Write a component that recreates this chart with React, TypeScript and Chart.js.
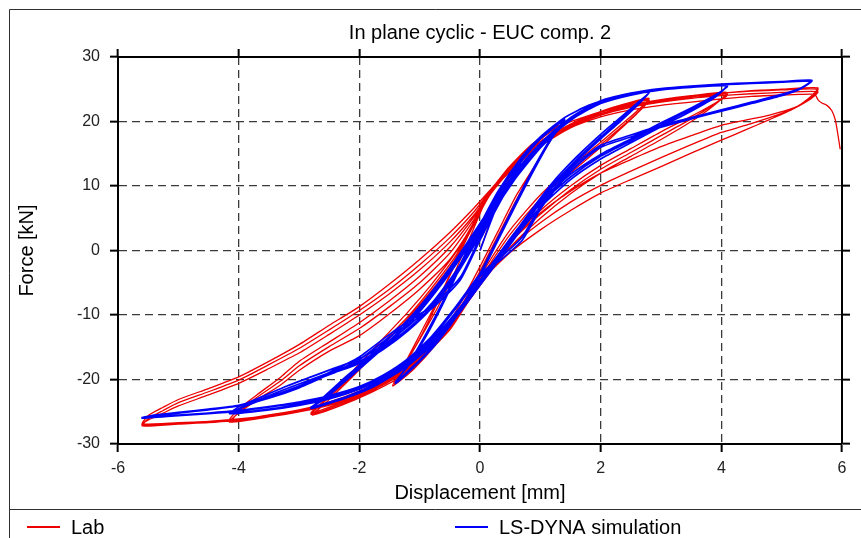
import React, { useEffect, useRef } from "react";
import { Chart, registerables } from "chart.js";

Chart.register(...registerables);

type P = [number, number];

// ---- text ----
const chartTitle = "In plane cyclic - EUC comp. 2";
const xAxisTitle = "Displacement [mm]";
const yAxisTitle = "Force [kN]";
const seriesNames = ["Lab", "LS-DYNA simulation"];

// ---- axis ranges ----
const X_MIN = -6;
const X_MAX = 6;
const X_STEP = 2;
const Y_MIN = -30;
const Y_MAX = 30;
const Y_STEP = 10;

// ---- Lab (red) : displacement [mm], force [kN] ----
const labCycle1: P[] = [
  [0, 0], [0.15, 4], [0.3, 8], [0.5, 11.5], [0.75, 14.8], [1.0, 17.2], [1.3, 19.2],
  [1.15, 16.8], [0.9, 13], [0.6, 8.5], [0.3, 3], [0, -2.5], [-0.3, -7.8], [-0.6, -12.5], [-1.0, -17], [-1.4, -20.4],
  [-1.25, -17.8], [-1.0, -13.8], [-0.7, -8.8], [-0.4, -3], [-0.1, 3.5], [0.12, 8.2], [0.4, 12], [0.7, 15], [1.0, 17.4], [1.3, 19.4],
  [1.12, 16.4], [0.85, 12], [0.55, 6.8], [0.25, 1.2], [-0.05, -4.5], [-0.35, -9.6], [-0.75, -14.8], [-1.1, -18.4], [-1.42, -20.8],
  [-1.22, -17.4], [-0.95, -12.8], [-0.65, -7], [-0.35, -0.8], [-0.05, 5.2], [0.15, 8.8], [0.45, 12.6], [0.85, 16.4], [1.3, 19.3],
  [1.1, 16], [0.82, 11.6], [0.5, 6], [0.2, 0.5], [-0.1, -5], [-0.4, -10], [-0.8, -15.3], [-1.15, -18.8], [-1.45, -21],
  [-1.25, -17.6], [-0.95, -12.2], [-0.6, -5.8], [-0.3, 0.5], [0, 6], [0.18, 9], [0.5, 13], [0.9, 16.6], [1.3, 19.2],
  [1.7, 20.6], [2.1, 21.8], [2.5, 22.8], [2.8, 23.4],
];

const labCycle2: P[] = [
  [2.6, 21.3], [2.3, 18.8], [2, 16.4], [1.5, 12.4], [1, 8], [0.5, 2.5], [0.1, -3], [-0.2, -7.5], [-0.5, -11.6], [-0.9, -16], [-1.3, -19.2], [-1.8, -21.6], [-2.3, -23.6], [-2.8, -25.2],
  [-2.6, -23.4], [-2.3, -20.6], [-2, -17.6], [-1.6, -13.6], [-1.2, -9.6], [-0.8, -5.2], [-0.4, -0.3], [-0.1, 4.4], [0.12, 8.3], [0.4, 11.8], [0.8, 15.3], [1.2, 18], [1.7, 20.4], [2.2, 22.2], [2.8, 23.6],
  [2.6, 21.6], [2.3, 19.2], [2, 16.8], [1.5, 12.9], [1, 8.6], [0.5, 3.2], [0.1, -2.5], [-0.2, -7.2], [-0.5, -11.2], [-0.9, -15.6], [-1.3, -19], [-1.8, -21.8], [-2.3, -23.8], [-2.8, -25.4],
  [-2.62, -23.8], [-2.3, -21], [-2, -18.2], [-1.6, -14.2], [-1.2, -10.3], [-0.8, -5.8], [-0.4, -0.8], [-0.08, 4.8], [0.15, 8.6], [0.45, 12.3], [0.85, 15.8], [1.3, 18.6], [1.8, 20.7], [2.3, 22.3], [2.8, 23.3],
  [2.6, 21.2], [2.3, 18.6], [2, 16], [1.5, 12], [1, 7.4], [0.5, 1.8], [0.1, -3.6], [-0.2, -7.8], [-0.5, -12], [-0.9, -16.3], [-1.3, -19.5], [-1.8, -22], [-2.3, -24], [-2.78, -25.5],
  [-2.6, -24], [-2.3, -21.3], [-2, -18.5], [-1.6, -14.6], [-1.2, -10.6], [-0.8, -6.2], [-0.4, -1.2], [-0.1, 4], [0.15, 8.5], [0.5, 12.8], [1, 16.8], [1.5, 19.4], [2, 21.2], [2.5, 22.5], [3, 23.4], [3.5, 24], [4.1, 24.5],
];

const labCycle3: P[] = [
  [3.85, 22.3], [3.5, 20], [3, 17.2], [2.5, 14.6], [2, 12], [1.5, 8.8], [1, 5], [0.5, 0.5], [0.1, -4.2], [-0.2, -8], [-0.5, -12], [-1, -16.6], [-1.5, -19.8], [-2, -22], [-2.5, -23.6], [-3, -24.7], [-3.5, -25.5], [-4.15, -26.3],
  [-4, -24.6], [-3.7, -22.4], [-3.3, -19.6], [-3, -17.2], [-2.5, -14.2], [-2, -11.2], [-1.5, -7.8], [-1, -4], [-0.5, 0.5], [-0.1, 5.2], [0.15, 8.8], [0.5, 12.8], [1, 16.9], [1.5, 19.5], [2, 21.2], [2.5, 22.4], [3, 23.2], [3.5, 23.8], [4.1, 24.3],
  [3.85, 22.5], [3.5, 20.4], [3, 17.8], [2.5, 15.2], [2, 12.6], [1.5, 9.4], [1, 5.6], [0.5, 1.2], [0.1, -3.8], [-0.2, -7.8], [-0.5, -11.8], [-1, -16.4], [-1.5, -19.6], [-2, -21.8], [-2.5, -23.5], [-3, -24.8], [-3.5, -25.7], [-4.12, -26.5],
  [-3.98, -24.9], [-3.7, -22.8], [-3.3, -20.2], [-3, -17.9], [-2.5, -14.9], [-2, -12.1], [-1.5, -8.7], [-1, -5], [-0.5, -0.4], [-0.1, 4.8], [0.15, 8.6], [0.5, 12.6], [1, 16.6], [1.5, 19.3], [2, 21], [2.5, 22.2], [3, 23], [3.5, 23.6], [4.1, 24.1],
  [3.85, 22.6], [3.5, 20.8], [3, 18.4], [2.5, 15.8], [2, 13.2], [1.5, 10], [1, 6.2], [0.5, 1.6], [0.1, -3.5], [-0.2, -7.6], [-0.5, -11.5], [-1, -16.2], [-1.5, -19.5], [-2, -21.8], [-2.5, -23.6], [-3, -24.9], [-3.5, -25.8], [-4.15, -26.6],
  [-4, -25.2], [-3.7, -23.2], [-3.3, -20.8], [-3, -18.6], [-2.5, -15.6], [-2, -13.2], [-1.5, -9.8], [-1, -6], [-0.5, -1.4], [-0.1, 4.2], [0.15, 8.4], [0.5, 12.4], [1, 16.4], [1.5, 19.2], [2, 21], [2.5, 22.3], [3, 23.2], [3.5, 23.9], [4, 24.4], [4.5, 24.8], [5, 25], [5.6, 25.2],
];

const labCycle4: P[] = [
  [5.45, 23.6], [5.2, 22], [4.8, 20.3], [4.4, 18.7], [4, 17.1], [3.5, 15.1], [3, 13], [2.5, 11], [2, 8.9], [1.5, 6.2], [1, 3.2], [0.5, -0.3], [0.1, -4], [-0.2, -8], [-0.5, -12.3], [-1, -17], [-1.5, -20.3], [-2, -22.6], [-2.5, -24], [-3, -25], [-3.5, -25.6], [-4, -26.1], [-4.5, -26.5], [-5, -26.8], [-5.6, -27],
  [-5.5, -25.6], [-5.25, -24.3], [-5, -23.1], [-4.5, -21.4], [-4, -19.6], [-3.5, -17.2], [-3, -14.6], [-2.5, -11.6], [-2, -8.7], [-1.5, -5.2], [-1, -1.4], [-0.5, 2.8], [-0.1, 6.6], [0.17, 9.4], [0.5, 12.8], [1, 16.8], [1.5, 19.6], [2, 21.4], [2.5, 22.6], [3, 23.4], [3.5, 24], [4, 24.4], [4.5, 24.7], [5, 24.9], [5.6, 25],
  [5.45, 23.4], [5.2, 22], [4.8, 20.6], [4.4, 19.4], [4, 18.3], [3.5, 16.4], [3, 14.4], [2.5, 12.3], [2, 10.1], [1.5, 7.5], [1, 4.3], [0.5, 0.5], [0.1, -3.6], [-0.2, -7.8], [-0.5, -12], [-1, -16.8], [-1.5, -20], [-2, -22.4], [-2.5, -23.9], [-3, -25], [-3.5, -25.8], [-4, -26.3], [-4.5, -26.7], [-5, -26.9], [-5.6, -27.2],
  [-5.5, -26.1], [-5.25, -24.8], [-5, -23.6], [-4.5, -21.9], [-4, -20.1], [-3.5, -17.7], [-3, -15.2], [-2.5, -12.3], [-2, -9.3], [-1.5, -6], [-1, -2.2], [-0.5, 2], [-0.1, 6], [0.17, 9.2], [0.5, 12.5], [1, 16.5], [1.5, 19.3], [2, 21], [2.5, 22.2], [3, 23], [3.5, 23.6], [4, 24], [4.5, 24.3], [5, 24.5], [5.6, 24.6],
  [5.45, 23.3], [5.2, 22.1], [4.8, 21], [4.4, 20.2], [4, 19.4], [3.5, 17.8], [3, 16.1], [2.5, 14.1], [2, 12], [1.5, 9.2], [1, 5.8], [0.5, 1.5], [0.1, -3.2], [-0.2, -7.6], [-0.5, -11.8], [-1, -16.6], [-1.5, -19.9], [-2, -22.2], [-2.5, -23.8], [-3, -24.9], [-3.5, -25.7], [-4, -26.2], [-4.5, -26.5], [-5, -26.7], [-5.6, -26.9],
  [-5.5, -26.3], [-5.25, -25.2], [-5, -24.1], [-4.5, -22.4], [-4, -20.6], [-3.5, -18.3], [-3, -15.9], [-2.5, -13], [-2, -10], [-1.5, -6.7], [-1, -3], [-0.5, 1.3], [-0.1, 5.5], [0.17, 9], [0.5, 12.2], [1, 16.2], [1.5, 19], [2, 20.7], [2.5, 21.8], [3, 22.5], [3.5, 23], [4, 23.5], [4.5, 23.9], [5, 24.1], [5.3, 24.2], [5.55, 24.2],
];

const labFailure: P[] = [
  [5.6, 23.4], [5.66, 22.9], [5.75, 22.5], [5.83, 21.7], [5.89, 20.2], [5.93, 18.1], [5.97, 15.7],
];

// ---- LS-DYNA simulation (blue) ----
const simCycle1: P[] = [
  [0, 0], [0.2, 5], [0.4, 9.5], [0.7, 14], [1, 17.3], [1.4, 20.3],
  [1.2, 17.6], [0.9, 12.6], [0.6, 7.2], [0.3, 1.6], [0, -4], [-0.3, -9], [-0.7, -14.2], [-1, -17.2], [-1.4, -20.6],
  [-1.2, -17.8], [-0.9, -13], [-0.6, -7.6], [-0.3, -1.6], [0, 4], [0.3, 9.2], [0.7, 14.6], [1, 17.6], [1.4, 20.4],
  [1.2, 17.8], [0.9, 13], [0.6, 7.6], [0.3, 2], [0, -3.6], [-0.3, -8.6], [-0.7, -13.8], [-1, -17], [-1.4, -20.4],
  [-1.2, -18], [-0.9, -13.4], [-0.6, -8], [-0.3, -2], [0, 3.6], [0.3, 8.8], [0.7, 14.2], [1, 17.4], [1.4, 20.2],
  [1.2, 17.5], [0.9, 12.8], [0.6, 7.4], [0.3, 1.8], [0, -3.8], [-0.3, -8.8], [-0.7, -14], [-1, -17.1], [-1.4, -20.5],
  [-1.2, -17.9], [-0.9, -13.2], [-0.6, -7.8], [-0.3, -1.8], [0, 3.8], [0.3, 9], [0.7, 14.4], [1, 17.6], [1.4, 20.6],
  [1.8, 22.5], [2.3, 23.9], [2.8, 24.6],
];

const simCycle2: P[] = [
  [2.6, 22.4], [2.3, 19.8], [2, 17.3], [1.6, 13.8], [1.2, 9.8], [0.8, 4.8], [0.4, -0.4], [0, -5.4], [-0.4, -10.4], [-0.8, -14.7], [-1.2, -17.9], [-1.7, -20.8], [-2.2, -22.8], [-2.8, -24.5],
  [-2.6, -22.8], [-2.3, -20.2], [-2, -17.8], [-1.6, -14.4], [-1.2, -10.8], [-0.8, -6.4], [-0.4, -1.4], [0, 4.2], [0.4, 9.8], [0.8, 14.6], [1.2, 18.4], [1.6, 21.2], [2, 23], [2.4, 24], [2.8, 24.6],
  [2.6, 22.6], [2.3, 20.1], [2, 17.6], [1.6, 14.1], [1.2, 10.1], [0.8, 5.2], [0.4, 0], [0, -5], [-0.4, -10], [-0.8, -14.4], [-1.2, -17.7], [-1.7, -20.6], [-2.2, -22.7], [-2.8, -24.4],
  [-2.6, -23], [-2.3, -20.5], [-2, -18.1], [-1.6, -14.8], [-1.2, -11.2], [-0.8, -6.8], [-0.4, -1.8], [0, 3.8], [0.4, 9.4], [0.8, 14.3], [1.2, 18.2], [1.6, 21], [2, 22.8], [2.4, 23.9], [2.8, 24.5],
  [2.6, 22.8], [2.3, 20.4], [2, 18], [1.6, 14.5], [1.2, 10.5], [0.8, 5.6], [0.4, 0.4], [0, -4.7], [-0.4, -9.7], [-0.8, -14.1], [-1.2, -17.5], [-1.7, -20.5], [-2.2, -22.6], [-2.8, -24.3],
  [-2.6, -23.2], [-2.3, -20.8], [-2, -18.4], [-1.6, -15.1], [-1.2, -11.6], [-0.8, -7.2], [-0.4, -2.2], [0, 3.4], [0.4, 9], [0.8, 14], [1.2, 18], [1.6, 20.9], [2, 22.8], [2.5, 24.2], [3, 25], [3.5, 25.4], [4.1, 25.7],
];

const simCycle3: P[] = [
  [3.9, 23.8], [3.5, 21.6], [3, 19.2], [2.5, 16.7], [2, 14.2], [1.5, 11], [1, 6.7], [0.6, 2.2], [0.2, -2.8], [-0.2, -7.9], [-0.6, -12.4], [-1, -16], [-1.5, -19.3], [-2, -21.5], [-2.5, -23], [-3, -24], [-3.5, -24.7], [-4.15, -25.3],
  [-3.95, -24], [-3.6, -22.6], [-3.2, -21], [-2.8, -19.6], [-2.4, -18.2], [-2, -16.8], [-1.6, -14.6], [-1.2, -11.8], [-0.8, -8.2], [-0.4, -3.2], [0, 3], [0.4, 9.2], [0.8, 14.2], [1.2, 18.2], [1.6, 21], [2, 22.9], [2.5, 24.2], [3, 25], [3.5, 25.4], [4.1, 25.6],
  [3.9, 24], [3.5, 21.9], [3, 19.5], [2.5, 17], [2, 14.6], [1.5, 11.4], [1, 7.2], [0.6, 2.7], [0.2, -2.4], [-0.2, -7.5], [-0.6, -12.1], [-1, -15.8], [-1.5, -19.1], [-2, -21.4], [-2.5, -22.9], [-3, -23.9], [-3.5, -24.6], [-4.1, -25.2],
  [-3.9, -24.1], [-3.6, -22.9], [-3.2, -21.4], [-2.8, -20], [-2.4, -18.6], [-2, -17.2], [-1.6, -15], [-1.2, -12.2], [-0.8, -8.6], [-0.4, -3.6], [0, 2.6], [0.4, 8.8], [0.8, 13.9], [1.2, 18], [1.6, 20.8], [2, 22.8], [2.5, 24.1], [3, 24.9], [3.5, 25.3], [4.1, 25.5],
  [3.9, 24.1], [3.5, 22.1], [3, 19.8], [2.5, 17.3], [2, 14.9], [1.5, 11.8], [1, 7.6], [0.6, 3.1], [0.2, -2], [-0.2, -7.2], [-0.6, -11.8], [-1, -15.6], [-1.5, -19], [-2, -21.3], [-2.5, -22.8], [-3, -23.8], [-3.5, -24.6], [-4.12, -25.2],
  [-3.9, -24.2], [-3.6, -23.1], [-3.2, -21.7], [-2.8, -20.3], [-2.4, -18.9], [-2, -17.5], [-1.6, -15.3], [-1.2, -12.5], [-0.8, -8.9], [-0.4, -3.9], [0, 2.3], [0.4, 8.6], [0.8, 13.8], [1.2, 17.9], [1.6, 20.8], [2, 22.8], [2.5, 24.1], [3, 24.9], [3.5, 25.4], [4, 25.7], [4.5, 25.9], [5, 26.1], [5.5, 26.3],
];

const simCycle4: P[] = [
  [5.3, 25], [5, 24], [4.5, 22.8], [4, 21.6], [3.5, 20.4], [3, 19.1], [2.5, 17.6], [2, 16], [1.6, 13.1], [1.33, 10.4], [1, 6.4], [0.7, 1.6], [0.35, -1.4], [0, -4], [-0.4, -9], [-0.8, -13.6], [-1.2, -17], [-1.6, -19.4], [-2, -21.2], [-2.5, -22.6], [-3, -23.6], [-3.5, -24.3], [-4, -24.9], [-4.5, -25.3], [-5, -25.6], [-5.6, -26],
  [-5.4, -25.5], [-5, -25.1], [-4.5, -24.6], [-4, -24], [-3.5, -22.7], [-3, -21], [-2.5, -18.9], [-2, -16.5], [-1.4, -12.3], [-0.8, -8.6], [-0.33, -4.2], [0, 2], [0.45, 9.8], [1, 16.2], [1.5, 20.6], [2, 23.2], [2.5, 24.4], [3, 25.1], [3.5, 25.5], [4, 25.8], [4.5, 26], [5, 26.2], [5.5, 26.4],
  [5.3, 25.1], [5, 24.2], [4.5, 23], [4, 21.8], [3.5, 20.6], [3, 19.4], [2.5, 17.9], [2, 16.3], [1.6, 13.5], [1.33, 10.8], [1, 6.9], [0.7, 2.1], [0.35, -1], [0, -3.7], [-0.4, -8.7], [-0.8, -13.3], [-1.2, -16.8], [-1.6, -19.3], [-2, -21.1], [-2.5, -22.5], [-3, -23.5], [-3.5, -24.2], [-4, -24.8], [-4.5, -25.2], [-5, -25.5], [-5.6, -25.9],
  [-5.4, -25.6], [-5, -25.2], [-4.5, -24.7], [-4, -24.1], [-3.5, -22.9], [-3, -21.3], [-2.5, -19.2], [-2, -16.9], [-1.4, -12.7], [-0.8, -9], [-0.33, -4.6], [0, 1.6], [0.45, 9.4], [1, 15.9], [1.5, 20.3], [2, 22.9], [2.5, 24.2], [3, 25], [3.5, 25.4], [4, 25.7], [4.5, 25.9], [5, 26.1], [5.5, 26.3],
];

const labPath: P[] = [...labCycle1, ...labCycle2, ...labCycle3, ...labCycle4, ...labFailure];
const simPath: P[] = [...simCycle1, ...simCycle2, ...simCycle3, ...simCycle4];

const toPoints = (arr: P[]) => arr.map(([x, y]) => ({ x, y }));

const FONT = 'Arial, "Liberation Sans", sans-serif';
const RED = "rgb(236,0,0)";
const BLUE = "rgb(0,0,250)";

const frameLegendPlugin = {
  id: "frameLegend",
  afterDraw(chart: any) {
    const ctx = chart.ctx as CanvasRenderingContext2D;
    const W = chart.width;
    const H = chart.height;
    ctx.save();
    ctx.strokeStyle = "#303030";
    ctx.lineWidth = 1;
    ctx.beginPath();
    ctx.moveTo(1.5, H);
    ctx.lineTo(1.5, 1.5);
    ctx.lineTo(W, 1.5);
    ctx.moveTo(1.5, 501.5);
    ctx.lineTo(W, 501.5);
    ctx.stroke();

    const entries = [
      { x: 19, color: RED, label: seriesNames[0] },
      { x: 447, color: BLUE, label: seriesNames[1] },
    ];
    const ly = 519;
    ctx.font = `20px ${FONT}`;
    ctx.textBaseline = "middle";
    ctx.textAlign = "left";
    for (const e of entries) {
      ctx.strokeStyle = e.color;
      ctx.lineWidth = 2;
      ctx.beginPath();
      ctx.moveTo(e.x, ly);
      ctx.lineTo(e.x + 33, ly);
      ctx.stroke();
      ctx.fillStyle = "#000";
      ctx.fillText(e.label, e.x + 44, ly + 1);
    }
    ctx.restore();
  },
};

export default function App() {
  const ref = useRef<HTMLCanvasElement>(null);

  useEffect(() => {
    if (!ref.current) return;
    Chart.defaults.font.family = FONT;
    const gridCommon = {
      color: "#3a3a3a",
      lineWidth: 1.3,
      tickLength: 8,
      tickColor: "#000",
      tickWidth: 2,
      tickBorderDash: [] as number[],
    };
    const borderCommon = { display: true, color: "#000", width: 2, dash: [8, 5] };
    const chart = new Chart(ref.current, {
      type: "scatter",
      data: {
        datasets: [
          {
            label: seriesNames[0],
            data: toPoints(labPath),
            showLine: true,
            borderColor: RED,
            backgroundColor: RED,
            borderWidth: 1.3,
            pointRadius: 0,
            tension: 0.2,
            order: 1,
          },
          {
            label: seriesNames[1],
            data: toPoints(simPath),
            showLine: true,
            borderColor: BLUE,
            backgroundColor: BLUE,
            borderWidth: 1.7,
            pointRadius: 0,
            tension: 0.2,
            order: 0,
          },
        ],
      },
      options: {
        animation: false,
        responsive: false,
        events: [],
        layout: { padding: { left: 0, right: 11, top: 0, bottom: 28 } },
        plugins: {
          legend: { display: false },
          tooltip: { enabled: false },
          title: {
            display: true,
            text: chartTitle,
            fullSize: false,
            color: "#000",
            font: { size: 20, weight: "normal", family: FONT },
            padding: { top: 13, bottom: 4 },
          },
        },
        scales: {
          x: {
            type: "linear",
            position: "bottom",
            min: X_MIN,
            max: X_MAX,
            ticks: { stepSize: X_STEP, color: "#222", font: { size: 16 }, padding: 7, maxRotation: 0 },
            grid: gridCommon,
            border: borderCommon,
            title: {
              display: true,
              text: xAxisTitle,
              color: "#000",
              font: { size: 20 },
              padding: { top: 0, bottom: 5 },
            },
            afterFit: (s: any) => {
              s.height = 66;
            },
          },
          y: {
            type: "linear",
            position: "left",
            min: Y_MIN,
            max: Y_MAX,
            ticks: { stepSize: Y_STEP, color: "#222", font: { size: 16 }, padding: 10 },
            grid: gridCommon,
            border: borderCommon,
            title: {
              display: true,
              text: yAxisTitle,
              color: "#000",
              font: { size: 20 },
              padding: { top: 7, bottom: 0 },
            },
            afterFit: (s: any) => {
              s.width = 110;
            },
          },
          x2: {
            type: "linear",
            position: "top",
            min: X_MIN,
            max: X_MAX,
            ticks: { stepSize: X_STEP, display: false },
            grid: { ...gridCommon, drawOnChartArea: false },
            border: { display: true, color: "#000", width: 2 },
            afterFit: (s: any) => {
              s.height = 8;
            },
          },
          y2: {
            type: "linear",
            position: "right",
            min: Y_MIN,
            max: Y_MAX,
            ticks: { stepSize: Y_STEP, display: false },
            grid: { ...gridCommon, drawOnChartArea: false },
            border: { display: true, color: "#000", width: 2 },
            afterFit: (s: any) => {
              s.width = 8;
            },
          },
        },
      } as any,
      plugins: [frameLegendPlugin],
    });
    return () => chart.destroy();
  }, []);

  return (
    <div style={{ position: "fixed", left: 8, top: 8, width: 853, height: 530, background: "#fff" }}>
      <canvas ref={ref} width={853} height={530} style={{ display: "block" }} />
    </div>
  );
}
